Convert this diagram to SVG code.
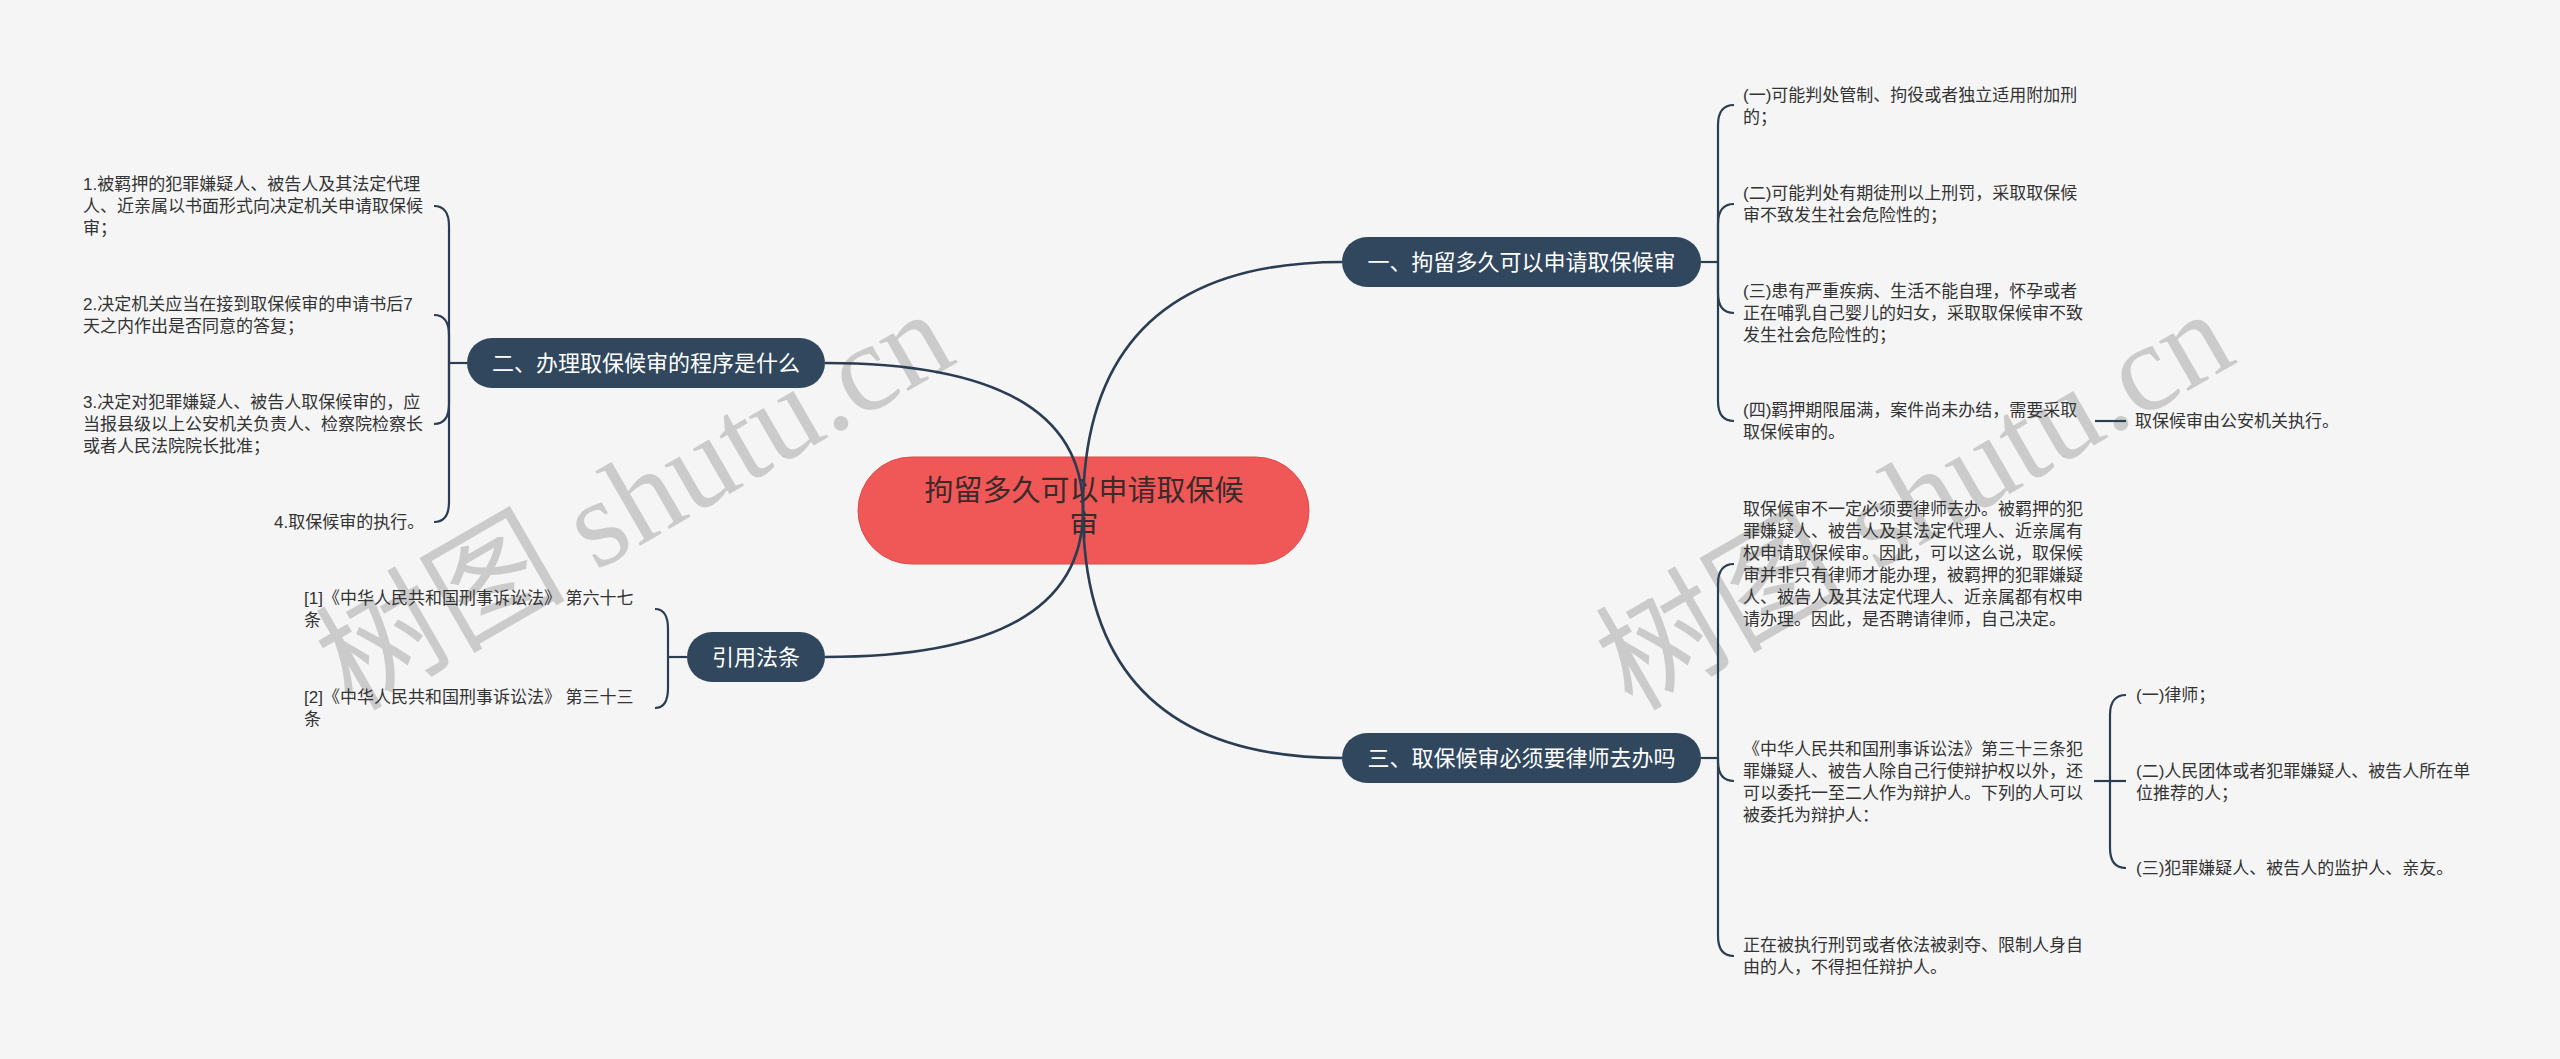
<svg xmlns="http://www.w3.org/2000/svg" width="2560" height="1059" viewBox="0 0 2560 1059">
<style>
.bg{fill:#f5f5f5}
.wm{font-family:"Liberation Serif","Noto Sans CJK SC",serif;font-size:125px;fill:#cbcbcb}
.root{fill:#f05858;stroke:#e04a4a;stroke-width:1}
.rootT{font-family:"Liberation Sans","Noto Sans CJK SC",sans-serif;font-size:29px;fill:#3a2a2a;text-anchor:middle}
.br{fill:#30475e}
.brT{font-family:"Liberation Sans","Noto Sans CJK SC",sans-serif;font-size:22px;fill:#ffffff;text-anchor:middle}
.lf{font-family:"Liberation Sans","Noto Sans CJK SC",sans-serif;font-size:17px;fill:#333333}
.main{fill:none;stroke:#2b3d52;stroke-width:2.6}
.bk{fill:none;stroke:#2b3d52;stroke-width:2.2}
</style>
<rect class="bg" x="0" y="0" width="2560" height="1059"/>
<g id="watermarks">
<text class="wm" transform="translate(352,712) rotate(-30)">树图 shutu.cn</text>
<text class="wm" transform="translate(1632,712) rotate(-30)">树图 shutu.cn</text>
</g>
<g id="root">
<rect class="root" x="858" y="457" width="451" height="107" rx="53.5"/>
<text class="rootT" x="1084" y="501">拘留多久可以申请取保候</text>
<text class="rootT" x="1084" y="536">审</text>
</g>
<g id="branch1">
<rect class="br" x="1342" y="237" width="359" height="50" rx="25"/>
<text class="brT" x="1521.5" y="270">一、拘留多久可以申请取保候审</text>
</g>
<g id="branch2">
<rect class="br" x="467" y="338" width="358" height="50" rx="25"/>
<text class="brT" x="646" y="371">二、办理取保候审的程序是什么</text>
</g>
<g id="branch3">
<rect class="br" x="1342" y="733" width="359" height="50" rx="25"/>
<text class="brT" x="1521.5" y="766">三、取保候审必须要律师去办吗</text>
</g>
<g id="branch4">
<rect class="br" x="687" y="632" width="138" height="50" rx="25"/>
<text class="brT" x="756" y="665">引用法条</text>
</g>
<g id="b2c1"><text class="lf" x="83" y="190">1.被羁押的犯罪嫌疑人、被告人及其法定代理</text><text class="lf" x="83" y="212">人、近亲属以书面形式向决定机关申请取保候</text><text class="lf" x="83" y="234">审；</text></g>
<g id="b2c2"><text class="lf" x="83" y="310">2.决定机关应当在接到取保候审的申请书后7</text><text class="lf" x="83" y="332">天之内作出是否同意的答复；</text></g>
<g id="b2c3"><text class="lf" x="83" y="408">3.决定对犯罪嫌疑人、被告人取保候审的，应</text><text class="lf" x="83" y="430">当报县级以上公安机关负责人、检察院检察长</text><text class="lf" x="83" y="452">或者人民法院院长批准；</text></g>
<g id="b2c4"><text class="lf" x="274" y="528">4.取保候审的执行。</text></g>
<g id="b4c1"><text class="lf" x="304" y="604">[1]《中华人民共和国刑事诉讼法》 第六十七</text><text class="lf" x="304" y="626">条</text></g>
<g id="b4c2"><text class="lf" x="304" y="703">[2]《中华人民共和国刑事诉讼法》 第三十三</text><text class="lf" x="304" y="725">条</text></g>
<g id="b1c1"><text class="lf" x="1743" y="101">(一)可能判处管制、拘役或者独立适用附加刑</text><text class="lf" x="1743" y="123">的；</text></g>
<g id="b1c2"><text class="lf" x="1743" y="199">(二)可能判处有期徒刑以上刑罚，采取取保候</text><text class="lf" x="1743" y="221">审不致发生社会危险性的；</text></g>
<g id="b1c3"><text class="lf" x="1743" y="297">(三)患有严重疾病、生活不能自理，怀孕或者</text><text class="lf" x="1743" y="319">正在哺乳自己婴儿的妇女，采取取保候审不致</text><text class="lf" x="1743" y="341">发生社会危险性的；</text></g>
<g id="b1c4"><text class="lf" x="1743" y="416">(四)羁押期限届满，案件尚未办结，需要采取</text><text class="lf" x="1743" y="438">取保候审的。</text></g>
<g id="b1c4a"><text class="lf" x="2135" y="427">取保候审由公安机关执行。</text></g>
<g id="b3c1"><text class="lf" x="1743" y="515">取保候审不一定必须要律师去办。被羁押的犯</text><text class="lf" x="1743" y="537">罪嫌疑人、被告人及其法定代理人、近亲属有</text><text class="lf" x="1743" y="559">权申请取保候审。因此，可以这么说，取保候</text><text class="lf" x="1743" y="581">审并非只有律师才能办理，被羁押的犯罪嫌疑</text><text class="lf" x="1743" y="603">人、被告人及其法定代理人、近亲属都有权申</text><text class="lf" x="1743" y="625">请办理。因此，是否聘请律师，自己决定。</text></g>
<g id="b3c2"><text class="lf" x="1743" y="755">《中华人民共和国刑事诉讼法》第三十三条犯</text><text class="lf" x="1743" y="777">罪嫌疑人、被告人除自己行使辩护权以外，还</text><text class="lf" x="1743" y="799">可以委托一至二人作为辩护人。下列的人可以</text><text class="lf" x="1743" y="821">被委托为辩护人：</text></g>
<g id="b3c2a"><text class="lf" x="2136" y="701">(一)律师；</text></g>
<g id="b3c2b"><text class="lf" x="2136" y="777">(二)人民团体或者犯罪嫌疑人、被告人所在单</text><text class="lf" x="2136" y="799">位推荐的人；</text></g>
<g id="b3c2c"><text class="lf" x="2136" y="874">(三)犯罪嫌疑人、被告人的监护人、亲友。</text></g>
<g id="b3c3"><text class="lf" x="1743" y="951">正在被执行刑罚或者依法被剥夺、限制人身自</text><text class="lf" x="1743" y="973">由的人，不得担任辩护人。</text></g>
<g id="connectors">
<path class="main" d="M1083 510 Q1083 262 1342 262"/>
<path class="main" d="M1083 510 Q1083 758 1342 758"/>
<path class="main" d="M1083 510 Q1083 363 825 363"/>
<path class="main" d="M1083 510 Q1083 657 825 657"/>
<path class="bk" d="M1701 262 H1718"/>
<path class="bk" d="M1718 262 V125 C1718 113 1722 105 1734 105"/>
<path class="bk" d="M1718 262 V224 C1718 212 1722 204 1734 204"/>
<path class="bk" d="M1718 262 V293 C1718 305 1722 313 1734 313"/>
<path class="bk" d="M1718 262 V401 C1718 413 1722 421 1734 421"/>
<path class="bk" d="M2095 421 H2126"/>
<path class="bk" d="M1701 758 H1718"/>
<path class="bk" d="M1718 758 V584 C1718 572 1722 564 1734 564"/>
<path class="bk" d="M1718 758 V761 C1718 773 1722 781 1734 781"/>
<path class="bk" d="M1718 758 V936 C1718 948 1722 956 1734 956"/>
<path class="bk" d="M2094 781 H2110"/>
<path class="bk" d="M2110 781 V715 C2110 703 2114 695 2126 695"/>
<path class="bk" d="M2110 781 H2126"/>
<path class="bk" d="M2110 781 V848 C2110 860 2114 868 2126 868"/>
<path class="bk" d="M467 363 H449"/>
<path class="bk" d="M449 363 V226 C449 214 445 206 434 206"/>
<path class="bk" d="M449 363 V335 C449 323 445 315 434 315"/>
<path class="bk" d="M449 363 V404 C449 416 445 424 434 424"/>
<path class="bk" d="M449 363 V502 C449 514 445 522 434 522"/>
<path class="bk" d="M687 657 H668"/>
<path class="bk" d="M668 657 V629 C668 617 664 609 655 609"/>
<path class="bk" d="M668 657 V688 C668 700 664 708 655 708"/>
</g>
</svg>
